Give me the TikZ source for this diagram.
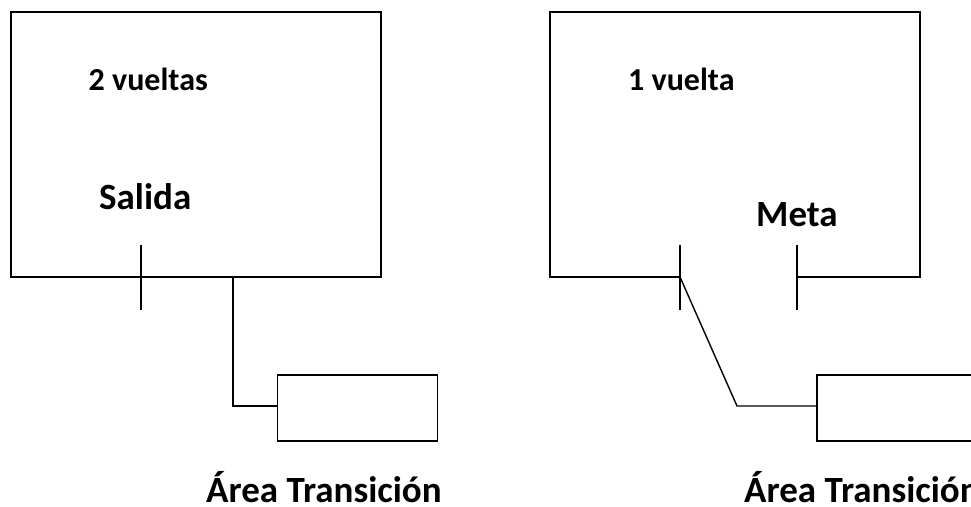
\documentclass[tikz,border=0pt]{standalone}
\usepackage{fontspec}
\setmainfont{Carlito}
\tikzset{
  ln/.style={draw=black,line width=1.4pt},
  boxln/.style={draw=black,line width=1.7pt,minimum width=160pt,minimum height=66pt,inner sep=0,anchor=north west},
  small/.style={font=\fontsize{32pt}{34pt}\selectfont\bfseries,inner sep=0,anchor=base west},
  mid/.style={font=\fontsize{37pt}{40pt}\selectfont\bfseries,inner sep=0,anchor=base west},
}
\begin{document}
\begin{tikzpicture}[x=1pt,y=-1pt]
\useasboundingbox (0,0) rectangle (971,506);
\clip (0,0) rectangle (971,506);
\coordinate (a1) at (233,277);
\coordinate (a2) at (233,406);
\coordinate (b1) at (680,277);
\coordinate (b2) at (737,406);
\coordinate (s1) at (141,245);
\coordinate (s2) at (141,310);
\coordinate (t1) at (680,245);
\coordinate (t2) at (680,310);
\coordinate (m1) at (797,245);
\coordinate (m2) at (797,310);
\draw[ln] (141,277) -- (11,277) -- (11,12) -- (381,12) -- (381,277) -- (141,277);
\draw[ln] (s1) -- (s2);
\node[boxln] (r1) at (276.5,374) {};
\draw[ln] (a1) -- (a2) -- (a2 -| r1.west);
\draw[ln] (680,277) -- (550,277) -- (550,12) -- (920,12) -- (920,277) -- (797,277);
\draw[ln] (t1) -- (t2);
\draw[ln] (m1) -- (m2);
\node[boxln] (r2) at (816,374) {};
\draw[ln] (b1) -- (b2) -- (b2 -| r2.west);
\node[small] (l1) at (88.5,90) {2 vueltas};
\node[small] (l2) at (628,90) {1 vuelta};
\node[mid] (l3) at (99,209) {Salida};
\node[mid] (l4) at (756,226) {Meta};
\node[mid] (l5) at (206,502.5) {Área Transición};
\node[mid] (l6) at (744,502.5) {Área Transición};
\end{tikzpicture}
\end{document}
